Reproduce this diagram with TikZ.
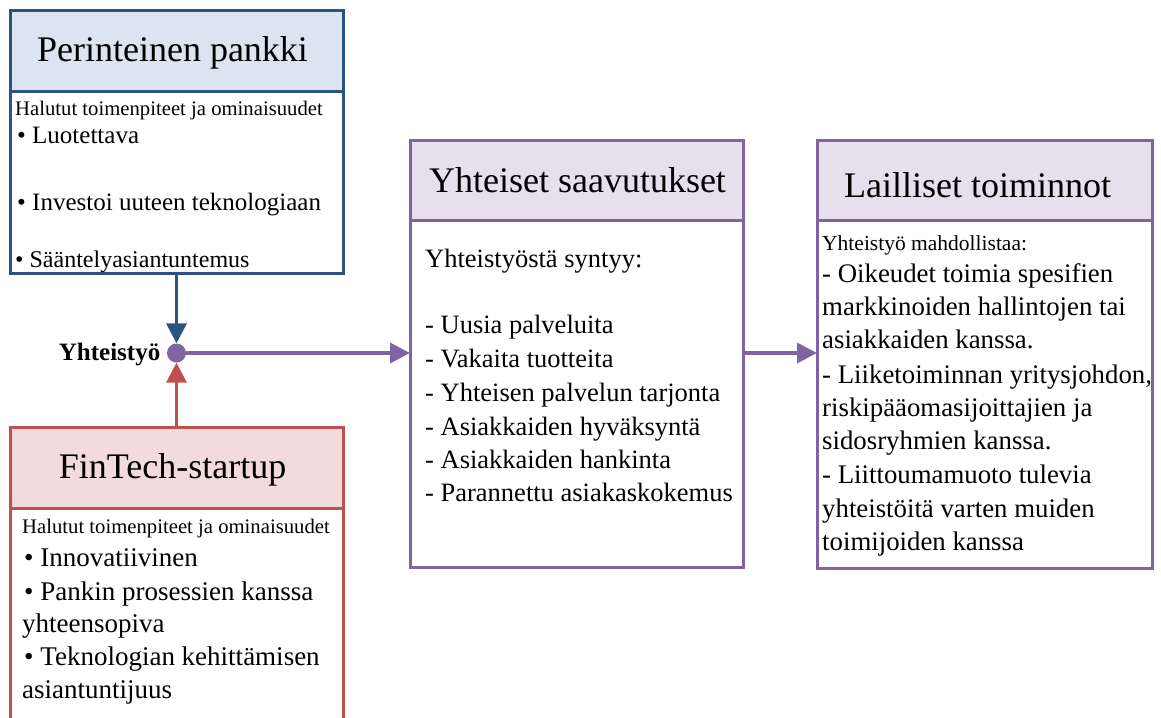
\documentclass[tikz,border=0pt]{standalone}
\usepackage{fontspec}
\setmainfont{Liberation Serif}
\usetikzlibrary{arrows.meta}
\definecolor{bankblue}{HTML}{2C5283}
\definecolor{bankfill}{HTML}{DBE5F1}
\definecolor{fred}{HTML}{C0504D}
\definecolor{ffill}{HTML}{F2DCDB}
\definecolor{purp}{HTML}{8064A2}
\definecolor{pfill}{HTML}{E5E0EC}
\tikzset{
  ln/.style={anchor=base west, inner sep=0pt, font=\fontsize{#1}{#1}\selectfont},
  ttl/.style={anchor=base, inner sep=0pt, font=\fontsize{36}{36}\selectfont},
  panel/.style={rectangle, draw=#1, line width=3pt, inner sep=0pt, outer sep=0pt, anchor=north west},
  conn/.style={draw=#1, line width=3.5pt, -{Triangle[length=20pt,width=20pt]}}
}
\begin{document}
\begin{tikzpicture}[x=1pt,y=-1pt]
\useasboundingbox (0,0) rectangle (1161,717);
\clip (0,0) rectangle (1161,717);
\fill[white] (0,0) rectangle (1161,717);

% Perinteinen pankki
\node[panel=bankblue, fill=bankfill, minimum width=333pt, minimum height=80pt] (bankhead) at (10,11) {};
\node[panel=bankblue, minimum width=333pt, minimum height=182pt] (bankbody) at (10,91) {};
\node[ttl] (banktitle) at (172.5,62) {Perinteinen pankki};
\node[ln=20.7] (b1) at (15,115) {Halutut toimenpiteet ja ominaisuudet};
\node[ln=25] (b2) at (17,143) {• Luotettava};
\node[ln=25] (b3) at (17,210) {• Investoi uuteen teknologiaan};
\node[ln=24] (b4) at (15,267) {• Sääntelyasiantuntemus};

% FinTech-startup
\node[panel=fred, fill=ffill, minimum width=333pt, minimum height=81pt] (finhead) at (10,427) {};
\node[panel=fred, minimum width=333pt, minimum height=240pt] (finbody) at (10,508) {};
\node[ttl] (fintitle) at (172.5,478) {FinTech-startup};
\node[ln=20.7] (f1) at (22,533) {Halutut toimenpiteet ja ominaisuudet};
\node[ln=27] (f2) at (24,566) {• Innovatiivinen};
\node[ln=27] (f3) at (24,600) {• Pankin prosessien kanssa};
\node[ln=27] (f4) at (22,632) {yhteensopiva};
\node[ln=27] (f5) at (24,665) {• Teknologian kehittämisen};
\node[ln=27] (f6) at (22,698) {asiantuntijuus};

% Yhteiset saavutukset
\node[panel=purp, fill=pfill, minimum width=333pt, minimum height=80pt] (yhhead) at (410,140) {};
\node[panel=purp, minimum width=333pt, minimum height=347pt] (yhbody) at (410,220) {};
\node[ttl] (yhtitle) at (577.5,192) {Yhteiset saavutukset};
\node[ln=26.5] (y1) at (425,267) {Yhteistyöstä syntyy:};
\node[ln=26.5] (y2) at (425,333) {- Uusia palveluita};
\node[ln=26.5] (y3) at (425,367) {- Vakaita tuotteita};
\node[ln=26.5] (y4) at (425,401) {- Yhteisen palvelun tarjonta};
\node[ln=26.5] (y5) at (425,435) {- Asiakkaiden hyväksyntä};
\node[ln=26.5] (y6) at (425,468) {- Asiakkaiden hankinta};
\node[ln=26.5] (y7) at (425,501) {- Parannettu asiakaskokemus};

% Lailliset toiminnot
\node[panel=purp, fill=pfill, minimum width=335pt, minimum height=80pt] (lahead) at (817,140) {};
\node[panel=purp, minimum width=335pt, minimum height=348pt] (labody) at (817,220) {};
\node[ttl] (latitle) at (977.5,197) {Lailliset toiminnot};
\node[ln=21.5] (l1) at (822,250) {Yhteistyö mahdollistaa:};
\node[ln=26.8] (l2) at (822,282) {- Oikeudet toimia spesifien};
\node[ln=26.8] (l3) at (822,315) {markkinoiden hallintojen tai};
\node[ln=26.8] (l4) at (822,348) {asiakkaiden kanssa.};
\node[ln=26.8] (l5) at (822,383) {- Liiketoiminnan yritysjohdon,};
\node[ln=26.8] (l6) at (822,416) {riskipääomasijoittajien ja};
\node[ln=26.8] (l7) at (822,449) {sidosryhmien kanssa.};
\node[ln=26.8] (l8) at (822,483) {- Liittoumamuoto tulevia};
\node[ln=26.8] (l9) at (822,517) {yhteistöitä varten muiden};
\node[ln=26.8] (l10) at (822,550) {toimijoiden kanssa};

% Yhteistyö hub
\node[circle, fill=purp, minimum size=19pt, inner sep=0pt] (dot) at (176.5,353) {};
\node[anchor=base east, inner sep=0pt, font=\fontsize{25}{25}\selectfont\bfseries] (lbl) at ([xshift=-16pt,yshift=-7pt]dot.center) {Yhteistyö};

% connectors
\draw[conn=bankblue] (bankbody.south) -- (dot);
\draw[conn=fred] (finhead.north) -- (dot);
\draw[conn=purp] (dot) -- (dot -| yhbody.west);
\draw[conn=purp] (yhbody.east |- dot) -- (labody.west |- dot);
\end{tikzpicture}
\end{document}
